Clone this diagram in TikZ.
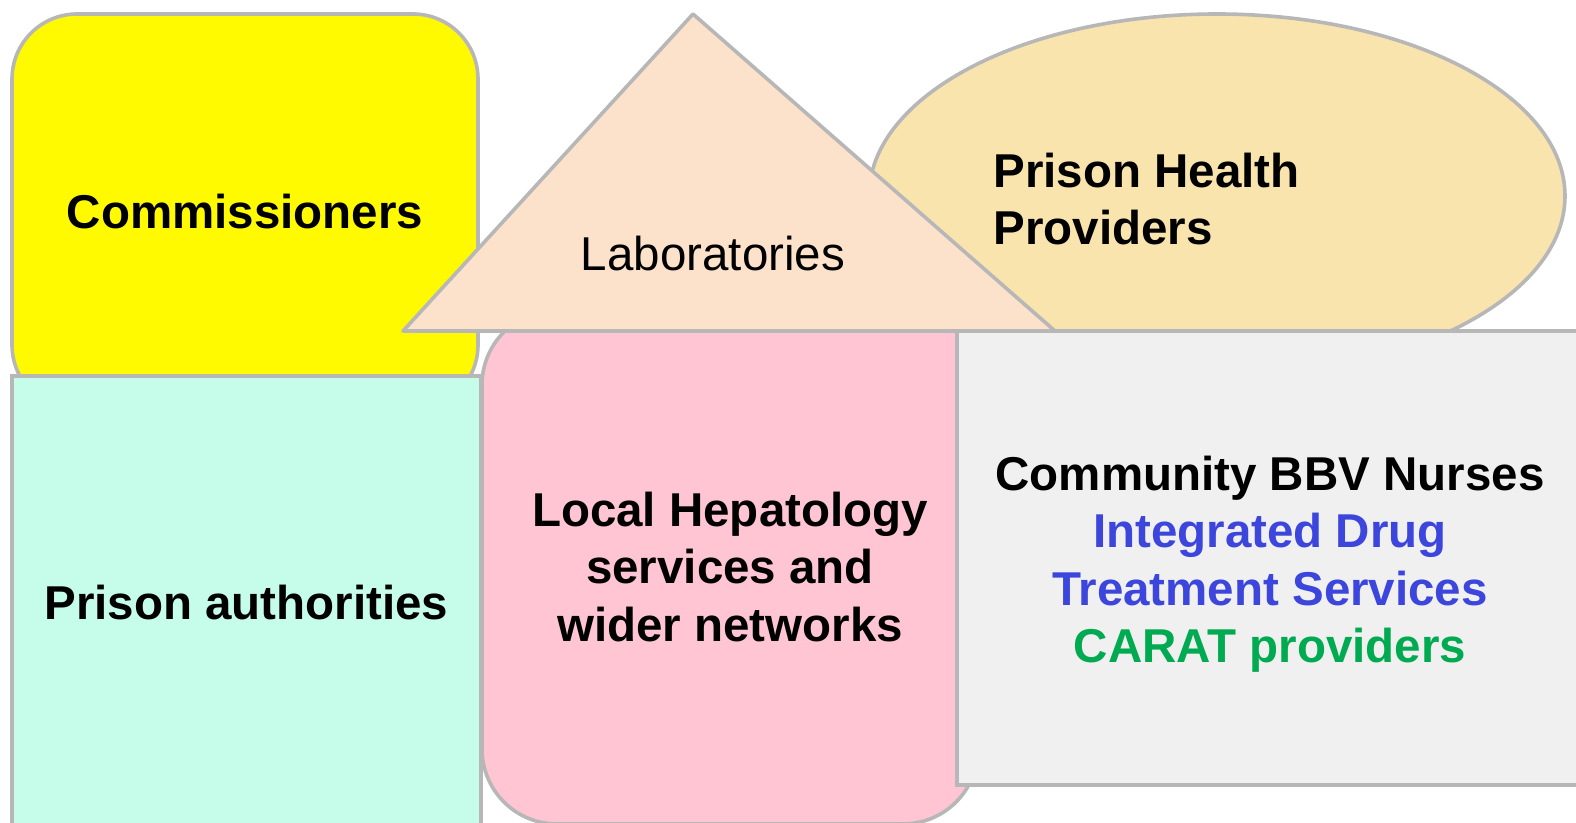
\documentclass[tikz,border=0pt]{standalone}
\usepackage{fontspec}
\setmainfont{Liberation Sans}
\usetikzlibrary{positioning,shapes.geometric}

\definecolor{commfill}{HTML}{FFFA00}
\definecolor{authfill}{HTML}{C6FCEA}
\definecolor{hepfill}{HTML}{FFC5D3}
\definecolor{labfill}{HTML}{FCE1CB}
\definecolor{provfill}{HTML}{F9E4AD}
\definecolor{nursefill}{HTML}{F0F0F0}
\definecolor{edgegrey}{HTML}{B7B7B7}
\definecolor{idtsblue}{HTML}{3C46DC}
\definecolor{caratgreen}{HTML}{00AA50}

\begin{document}
\begin{tikzpicture}[
    x=0.5pt, y=-0.5pt,
    block/.style={
        rectangle,
        draw=edgegrey,
        line width=1.8pt,
        inner sep=0pt,
        font=\fontsize{23.75}{28.75}\selectfont\bfseries,
        align=center
    },
    roundblock/.style={
        block,
        rounded corners=#1
    },
    plain/.style={
        inner sep=0pt,
        font=\fontsize{23.75}{28.75}\selectfont,
        align=center
    }
]
\clip (0,0) rectangle (1576,823);
\useasboundingbox (0,0) rectangle (1576,823);

% Commissioners
\node[roundblock=32.5pt, fill=commfill, minimum width=233pt, minimum height=198pt]
    (comm) at (245,212) {Commissioners};

% Prison authorities
\node[block, fill=authfill, minimum width=234.5pt, minimum height=227pt]
    (auth) at (246.5,603) {Prison authorities};

% Prison Health Providers
\node[ellipse, draw=edgegrey, line width=1.8pt, fill=provfill, inner sep=0pt,
    minimum width=348pt, minimum height=182pt] (prov) at (1217,196) {};
\node[plain, font=\fontsize{23.75}{28.75}\selectfont\bfseries, align=left, anchor=west]
    (provtext) at (993,199) {Prison Health\\Providers};

% Local Hepatology
\node[roundblock=37.5pt, fill=hepfill, minimum width=248pt, minimum height=257pt]
    (hep) at (730,567) {Local Hepatology\\services and\\wider networks};

% Laboratories
\coordinate (labtop) at (693,14);
\coordinate (labright) at (1055,331);
\coordinate (lableft) at (403,331);
\draw[draw=edgegrey, line width=1.8pt, fill=labfill, line join=round]
    (labtop) -- (labright) -- (lableft) -- cycle;
\node[plain] (lab) at (713,254) {Laboratories};

% Community services
\node[block, fill=nursefill, minimum width=311.5pt, minimum height=227pt]
    (nurse) at (1268.5,558) {};
\node[plain, font=\fontsize{23.75}{28.75}\selectfont\bfseries]
    (nursetext) at (1270,564) {Community BBV Nurses\\
    \textcolor{idtsblue}{Integrated Drug}\\
    \textcolor{idtsblue}{Treatment Services}\\
    \textcolor{caratgreen}{CARAT providers}};

\end{tikzpicture}
\end{document}
